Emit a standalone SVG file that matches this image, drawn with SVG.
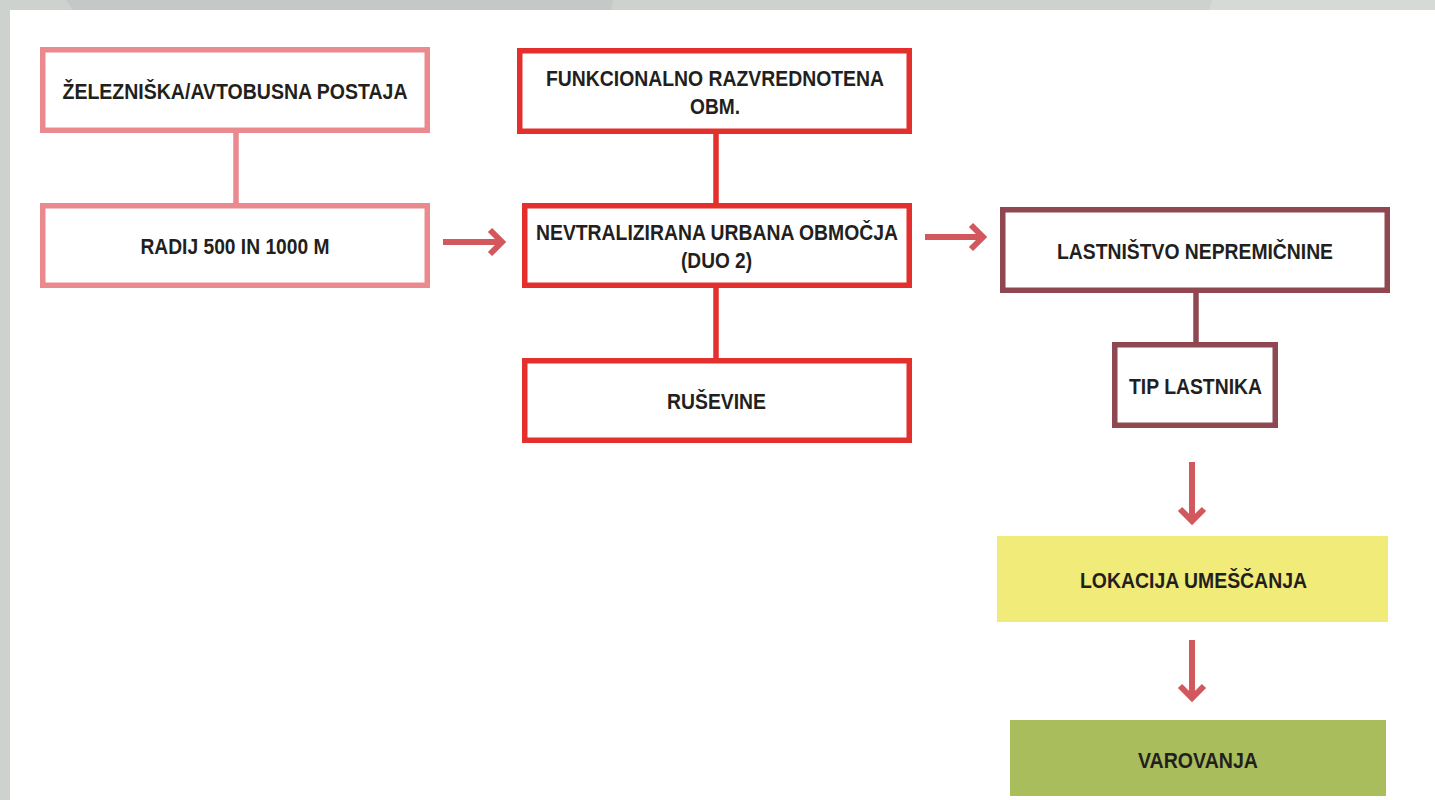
<svg xmlns="http://www.w3.org/2000/svg" width="1435" height="800" viewBox="0 0 1435 800">
<defs>
<style>
.bg{fill:#ffffff}
.frame{fill:#cdd2cf}
.box{fill:#ffffff;stroke-width:5.5}
.pink{stroke:#ea8a8f}
.red{stroke:#e3302c}
.wine{stroke:#8f4851}
.lbl{font-family:"Liberation Sans",Arial,sans-serif;font-weight:bold;font-size:22px;fill:#231f20;text-anchor:middle}
.link{fill:none;stroke-width:5.5}
.arrow{fill:none;stroke:#d3585d;stroke-width:6;stroke-linejoin:miter}
</style>
</defs>
<rect class="bg" x="0" y="0" width="1435" height="800"/>
<g id="frame">
<rect class="frame" x="0" y="0" width="1435" height="10"/>
<rect class="frame" x="0" y="0" width="10" height="800"/>
<polygon points="66,0 613,0 611,10 73,10" fill="#c4c8c6"/>
<polygon points="1212,0 1435,0 1435,10 1209,10" fill="#d5dad6"/>
</g>
<g id="connectors">
<line class="link pink" x1="236" y1="133" x2="236" y2="203"/>
<line class="link red" x1="716" y1="134" x2="716" y2="204"/>
<line class="link red" x1="716" y1="288" x2="716" y2="358"/>
<line class="link wine" x1="1196" y1="293" x2="1196" y2="343"/>
<g id="arrow-radij-nevtral">
<line class="arrow" x1="443" y1="242" x2="502" y2="242"/>
<polyline class="arrow" points="490,230 502,242 490,254"/>
</g>
<g id="arrow-nevtral-lastnistvo">
<line class="arrow" x1="925" y1="237" x2="983" y2="237"/>
<polyline class="arrow" points="971,225 983,237 971,249"/>
</g>
<g id="arrow-tip-lokacija">
<line class="arrow" x1="1192" y1="462" x2="1192" y2="521"/>
<polyline class="arrow" points="1180,509 1192,521 1204,509"/>
</g>
<g id="arrow-lokacija-varovanja">
<line class="arrow" x1="1192" y1="640" x2="1192" y2="698"/>
<polyline class="arrow" points="1180,686 1192,698 1204,686"/>
</g>
</g>
<g id="n-postaja">
<rect class="box pink" x="42.75" y="49.75" width="384.5" height="80.5"/>
<text class="lbl" x="235" y="98.5" textLength="345" lengthAdjust="spacingAndGlyphs">ŽELEZNIŠKA/AVTOBUSNA POSTAJA</text>
</g>
<g id="n-radij">
<rect class="box pink" x="42.75" y="205.75" width="384.5" height="79.5"/>
<text class="lbl" x="235" y="254" textLength="189" lengthAdjust="spacingAndGlyphs">RADIJ 500 IN 1000 M</text>
</g>
<g id="n-funkcionalno">
<rect class="box red" x="519.75" y="50.75" width="389.5" height="80.5"/>
<text class="lbl" x="715" y="86" textLength="338" lengthAdjust="spacingAndGlyphs">FUNKCIONALNO RAZVREDNOTENA</text>
<text class="lbl" x="715" y="114" textLength="50" lengthAdjust="spacingAndGlyphs">OBM.</text>
</g>
<g id="n-nevtralizirana">
<rect class="box red" x="524.75" y="205.75" width="384.5" height="79.5"/>
<text class="lbl" x="717" y="240" textLength="362" lengthAdjust="spacingAndGlyphs">NEVTRALIZIRANA URBANA OBMOČJA</text>
<text class="lbl" x="716.5" y="268" textLength="71" lengthAdjust="spacingAndGlyphs">(DUO 2)</text>
</g>
<g id="n-rusevine">
<rect class="box red" x="524.75" y="360.75" width="384.5" height="79.5"/>
<text class="lbl" x="716.5" y="409" textLength="99" lengthAdjust="spacingAndGlyphs">RUŠEVINE</text>
</g>
<g id="n-lastnistvo">
<rect class="box wine" x="1002.75" y="209.75" width="384.5" height="80.5"/>
<text class="lbl" x="1195" y="259" textLength="276" lengthAdjust="spacingAndGlyphs">LASTNIŠTVO NEPREMIČNINE</text>
</g>
<g id="n-tip">
<rect class="box wine" x="1114.75" y="344.75" width="160.5" height="80.5"/>
<text class="lbl" x="1195.5" y="394" textLength="133" lengthAdjust="spacingAndGlyphs">TIP LASTNIKA</text>
</g>
<g id="n-lokacija">
<rect x="997" y="536" width="391" height="86" fill="#f1ec79"/>
<text class="lbl" x="1193.5" y="588" textLength="227" lengthAdjust="spacingAndGlyphs">LOKACIJA UMEŠČANJA</text>
</g>
<g id="n-varovanja">
<rect x="1010" y="720" width="376" height="76" fill="#a9bd5c"/>
<text class="lbl" x="1198" y="768" textLength="120" lengthAdjust="spacingAndGlyphs">VAROVANJA</text>
</g>
</svg>
